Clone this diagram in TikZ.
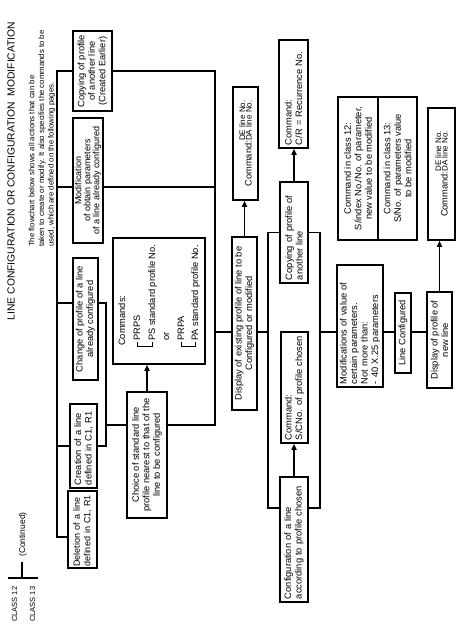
\documentclass[tikz,border=0pt]{standalone}
\usepackage{fontspec}
\setmainfont{Liberation Sans}
\usetikzlibrary{arrows.meta}
\newcommand{\dedaline}{{\fontsize{8}{8}\selectfont\raisebox{6.5pt}{\makebox[0pt][l]{DE line No.}}DA line No.}}
\begin{document}
\begin{tikzpicture}[x=1pt,y=-1pt,
  base/.style={font=\fontsize{9.3}{10.5}\selectfont},
  box/.style={base, draw, line width=1.5pt, rotate=90, inner sep=0.5pt, align=center},
  lbox/.style={box, align=left},
  wire/.style={line width=1.6pt, line cap=rect},
  arr/.style={line width=1.6pt, -{Triangle[length=6pt,width=5pt]}},
  txt/.style={base, rotate=90, inner sep=0pt},
  brk/.style={line width=0.8pt},
]
\useasboundingbox (0,0) rectangle (467,633);
% header
\node[txt, font=\fontsize{10.3}{12}\selectfont] (title) at (11,171) {LINE CONFIGURATION OR CONFIGURATION\ \ MODIFICATION};
\node[txt, anchor=west, align=left, font=\fontsize{7.8}{9.7}\selectfont] (intro) at (42,247) {The flowchart below shows all actions that can be\\taken to create or modify. It also specifies the commands to be\\used, which are defined on the following pages.};
\node[txt, anchor=base west, font=\fontsize{7.5}{9}\selectfont] (c12) at (17,622) {CLASS 12};
\node[txt, anchor=base west, font=\fontsize{7.5}{9}\selectfont] (c13) at (35,622) {CLASS 13};
\node[txt, anchor=base west, font=\fontsize{8.5}{10}\selectfont] (cont) at (25,557) {(Continued)};
\draw[wire] (9,578) -- (37,578);
\draw[wire] (22,578) -- (22,563);

% boxes
\node[box, minimum width=80pt, minimum height=39pt] (copyA) at (92.5,71) {Copying of profile\\of another line\\(Created Earlier)};
\node[box, minimum width=125pt, minimum height=30pt, font=\fontsize{9}{9}\selectfont] (modA) at (88,180.5) {Modification\\of obtain parameters\\of a line already configured};
\node[box, minimum width=122pt, minimum height=25pt] (changeB) at (85.5,319) {Change of profile of a line\\already configured};
\node[lbox, minimum width=84pt, minimum height=27pt, text width=78pt] (creation) at (83.5,446) {Creation of a line\\defined in C1, R1};
\node[lbox, minimum width=77pt, minimum height=29pt, text width=74pt, font=\fontsize{9}{10.5}\selectfont] (deletion) at (82.5,529.5) {Deletion of a line\\defined in C1, R1};
\node[box, minimum width=126pt, minimum height=40pt] (choice) at (147,455) {Choice of standard line\\profile nearest to that of the\\line to be configured};
\node[box, minimum width=126pt, minimum height=92pt] (cmds) at (159,301) {};
\node[box, minimum width=173pt, minimum height=25pt] (display) at (244.5,323.5) {Display of existing profile of line to be\\Configured or modified};
\node[box, minimum width=113pt, minimum height=25pt] (cmdDEa) at (245.5,143.5) {Command:\dedaline};
\node[lbox, minimum width=101pt, minimum height=28pt, text width=95pt] (copyB) at (294,232.5) {Copying of profile of\\another line};
\node[lbox, minimum width=108pt, minimum height=29pt, text width=102pt] (cmdCR) at (293.5,94) {Command:\\C/R = Recurrence No.};
\node[lbox, minimum width=125pt, minimum height=28pt, text width=119pt] (config) at (294,539.5) {Configuration of a line\\according to profile chosen};
\node[lbox, minimum width=111pt, minimum height=27pt, text width=105pt] (cmdS) at (294.5,387.5) {Command:\\S/CNo. of profile chosen};
\node[lbox, minimum width=122pt, minimum height=46pt, text width=116pt] (modif) at (360,326) {Modifications of value of\\certain parameters.\\Not more than:\\- 40 X.25 parameters};
\node[box, minimum width=80pt, minimum height=16pt] (lineConf) at (403,333) {Line Configured};
\node[box, minimum width=96pt, minimum height=25pt] (dispNew) at (439.5,340) {Display of profile of\\new line};
\node[box, minimum width=132pt, minimum height=27pt] (cmdDEb) at (441.5,174) {Command:\dedaline};
\node[box, minimum width=143pt, minimum height=40pt] (cls12) at (358,168.5) {Command in class 12:\\S/index No./No. of parameter,\\new value to be modified};
\node[box, minimum width=143pt, minimum height=39pt] (cls13) at (397.5,168.5) {Command in class 13:\\S/No. of parameters value\\to be modified};

% commands content
\node[txt, anchor=base west] (t1) at (125,346) {Commands:};
\node[txt, anchor=base west] (t2) at (140,341) {PRPS};
\node[txt, anchor=base west] (t3) at (155,341) {PS standard profile No.};
\node[txt, anchor=base west] (t4) at (169,341) {or};
\node[txt, anchor=base west] (t5) at (184,341) {PRPA};
\node[txt, anchor=base west] (t6) at (198,341) {PA standard profile No.};
\draw[brk] (137,342) -- (137,346) -- (152,346) -- (152,342);
\draw[brk] (181,342) -- (181,346) -- (195,346) -- (195,342);

% junctions
\coordinate (Ltop) at (57,71);
\coordinate (Lbot) at (57,537);
\coordinate (Lm) at (57,187);
\coordinate (Lc) at (57,303);
\coordinate (Rtop) at (215,71);
\coordinate (Rbot) at (215,425);
\coordinate (Btop) at (106,303);
\coordinate (Bch) at (106,425);
\coordinate (Dl) at (215,332);
\coordinate (Mtop) at (268,232.5);
\coordinate (Mbot) at (268,508);
\coordinate (Ntop) at (320,232.5);
\coordinate (Nbot) at (320,508);
\coordinate (Nm) at (320,332);

% connectors
\draw[wire] (Ltop) -- (Lbot);
\draw[wire] (Ltop) -- (copyA.north);
\draw[wire] (copyA.south) -- (Rtop) -- (Rbot);
\draw[wire] (Lm) -- (Lm -| modA.north);
\draw[wire] (Lm -| modA.south) -- (Lm -| Rtop);
\draw[wire] (Lc) -- (Lc -| changeB.north);
\draw[wire] (Lc -| changeB.south) -- (Btop) |- (creation.south);
\draw[wire] (creation.north -| Ltop) -- (creation.north);
\draw[wire] (Lbot) -- (Lbot -| deletion.north);
\draw[wire] (Bch) -- (Bch -| choice.north);
\draw[wire] (Bch -| choice.south) -- (Rbot);
\draw[arr] (choice.east) -- (choice.east |- cmds.west);
\draw[wire] (Dl) -- (Dl -| display.north);
\draw[wire] (Dl -| display.south) -- (Dl -| Mtop);
\draw[arr] (display.east) -- (display.east |- cmdDEa.west);
\draw[wire] (Mtop) -- (Mbot);
\draw[wire] (Mtop) -- (Mtop -| copyB.north);
\draw[wire] (Mbot) -- (Mbot -| config.north);
\draw[arr] (copyB.east) -- (copyB.east |- cmdCR.west);
\draw[arr] (config.east) -- (config.east |- cmdS.west);
\draw[wire] (Ntop -| copyB.south) -- (Ntop) -- (Nbot) -- (Nbot -| config.south);
\draw[wire] (Nm) -- (Nm -| modif.north);
\draw[wire] (Nm -| modif.south) -- (Nm -| lineConf.north);
\draw[wire] (Nm -| lineConf.south) -- (Nm -| dispNew.north);
\draw[arr] (dispNew.east) -- (dispNew.east |- cmdDEb.west);
\end{tikzpicture}
\end{document}
